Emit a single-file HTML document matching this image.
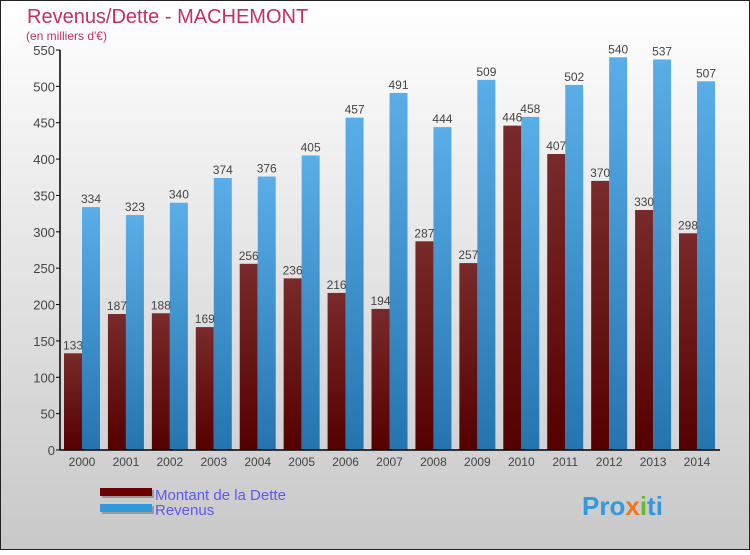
<!DOCTYPE html>
<html><head><meta charset="utf-8"><style>
body{margin:0;width:750px;height:550px;overflow:hidden;font-family:"Liberation Sans",sans-serif}
</style></head><body>
<svg width="750" height="550" xmlns="http://www.w3.org/2000/svg">
<defs>
<linearGradient id="bg" x1="0" y1="0" x2="0" y2="1"><stop offset="0" stop-color="#ffffff"/><stop offset="1" stop-color="#c8c8c8"/></linearGradient>
<linearGradient id="gd" x1="0" y1="0" x2="0" y2="1"><stop offset="0" stop-color="#7a2a2a"/><stop offset="1" stop-color="#550000"/></linearGradient>
<linearGradient id="gr" x1="0" y1="0" x2="0" y2="1"><stop offset="0" stop-color="#5aaee8"/><stop offset="1" stop-color="#2474b0"/></linearGradient>
</defs>
<rect x="0.5" y="0.5" width="749" height="549" fill="url(#bg)" stroke="#222"/>
<text x="27" y="23" font-size="20" fill="#c0306a">Revenus/Dette - MACHEMONT</text>
<text x="26" y="40" font-size="12" fill="#c0306a">(en milliers d'€)</text>
<g id="plot"></g>
<g>
<rect x="102" y="490" width="52" height="8" fill="#999"/>
<rect x="100" y="488" width="52" height="8" fill="#6a0000"/>
<text x="155" y="500" font-size="15" fill="#5a5aee">Montant de la Dette</text>
<rect x="102" y="506" width="52" height="8" fill="#999"/>
<rect x="100" y="504" width="52" height="8" fill="#3399dd"/>
<text x="155" y="515" font-size="15" fill="#5a5aee">Revenus</text>
</g>
<text x="582" y="515" font-size="26" font-weight="bold" fill="#3399dd">Pro<tspan fill="#ee7722">x</tspan><tspan fill="#66bb33">i</tspan>ti</text>
</svg>
<script>
const years=["2000","2001","2002","2003","2004","2005","2006","2007","2008","2009","2010","2011","2012","2013","2014"];
const dette=[133,187,188,169,256,236,216,194,287,257,446,407,370,330,298];
const revenus=[334,323,340,374,376,405,457,491,444,509,458,502,540,537,507];
const yTicks=[0,50,100,150,200,250,300,350,400,450,500,550];
const NS="http://www.w3.org/2000/svg";
const g=document.getElementById('plot');
const y0=450,ppu=400/550,x0=82,step=43.93,bw=18;
const Y=v=>y0-v*ppu, X=i=>x0+i*step;
function el(t,a,txt){const e=document.createElementNS(NS,t);for(const k in a)e.setAttribute(k,a[k]);if(txt!==undefined)e.textContent=txt;g.appendChild(e);return e;}
yTicks.forEach(v=>{
 const t=el('line',{x1:56,x2:60,y1:Y(v),y2:Y(v),stroke:'#000'});
 
 const l=el('text',{x:55,y:Y(v)+5,'font-size':13,'text-anchor':'end',fill:'#444'},v);
 
});
years.forEach((yr,i)=>{
 const cx=X(i);
 const d=el('rect',{x:cx-bw,y:Y(dette[i]),width:bw,height:dette[i]*ppu,fill:'url(#gd)'});
 
 const r=el('rect',{x:cx,y:Y(revenus[i]),width:bw,height:revenus[i]*ppu,fill:'url(#gr)'});
 
 const dl=el('text',{x:cx-bw/2,y:Y(dette[i])-4,'font-size':12,'text-anchor':'middle',fill:'#444'},dette[i]);
 
 const rl=el('text',{x:cx+bw/2,y:Y(revenus[i])-4,'font-size':12,'text-anchor':'middle',fill:'#444'},revenus[i]);
 
 const xl=el('text',{x:cx,y:466,'font-size':12,'text-anchor':'middle',fill:'#444'},yr);
 
});
const ya=el('line',{x1:60,x2:60,y1:50,y2:450,stroke:'#000','stroke-width':1.5});

const xa=el('line',{x1:60,x2:720,y1:450,y2:450,stroke:'#000','stroke-width':1.5});

</script>
</body></html>
